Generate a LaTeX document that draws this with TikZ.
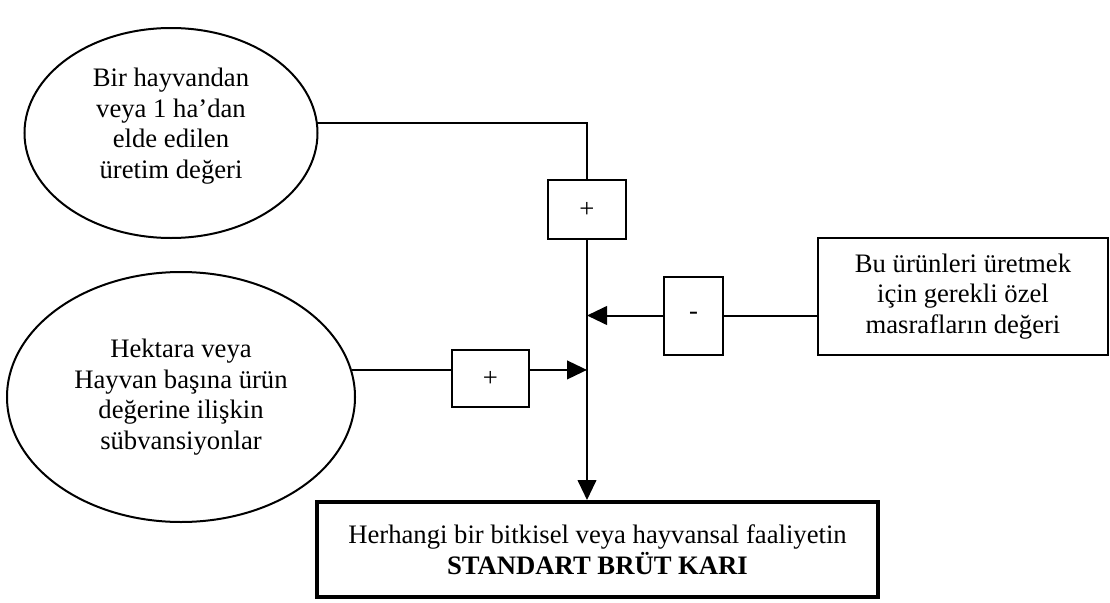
\documentclass[tikz,border=0pt]{standalone}
\usepackage{fontspec}
\setmainfont{Liberation Serif}
\usetikzlibrary{shapes.geometric,arrows.meta}
\begin{document}
\begin{tikzpicture}[x=0.75pt,y=-0.75pt,
  every node/.style={font=\fontsize{20}{23}\selectfont, align=center},
  oval/.style={ellipse, draw, line width=1.5pt, inner sep=0pt},
  signbox/.style={rectangle, draw, line width=1.5pt, inner sep=0pt},
  textbox/.style={rectangle, draw, line width=1.5pt, inner sep=0pt},
  resultbox/.style={rectangle, draw, line width=3pt, inner sep=0pt},
  link/.style={line width=1.5pt},
  feed/.style={link, -{Triangle[length=15pt,width=14pt]}}]
\useasboundingbox (0,0) rectangle (1110,603);

% inputs
\node[oval, minimum width=219.75pt, minimum height=157.5pt] (e1) at (171,133) {};
\node (e1text) at (171,126)
  {Bir hayvandan\\veya 1 ha’dan\\elde edilen\\üretim değeri};
\node[oval, minimum width=261pt, minimum height=187.5pt] (e2) at (181,397)
  {Hektara veya\\Hayvan başına ürün\\değerine ilişkin\\sübvansiyonlar};
\node[textbox, minimum width=217.5pt, minimum height=87.75pt] (r) at (963,296.5)
  {Bu ürünleri üretmek\\için gerekli özel\\masrafların değeri};

% sign boxes
\node[signbox, minimum width=58.5pt, minimum height=44.25pt] (p1) at (587,209.5) {+};
\node[signbox, minimum width=44.25pt, minimum height=58.5pt] (m) at (693.5,315.5) {-};
\node[signbox, minimum width=57.75pt, minimum height=42.75pt] (p2) at (490.5,378.5) {+};

% result
\node[resultbox, minimum width=420.75pt, minimum height=71.25pt] (b) at (597.5,549.5)
  {Herhangi bir bitkisel veya hayvansal faaliyetin\\\textbf{STANDART BRÜT KARI}};

% connectors
\draw[link] (e1.4) -| (p1.north);
\draw[feed] (p1.south) -- (p1.south |- b.north);
\draw[link] (r.west |- m.east) -- (m.east);
\draw[feed] (m.west) -- (m.west -| p1.south);
\draw[link] (e2.9) -- (e2.9 -| p2.west);
\draw[feed] (e2.9 -| p2.east) -- (e2.9 -| p1.south);
\end{tikzpicture}
\end{document}
